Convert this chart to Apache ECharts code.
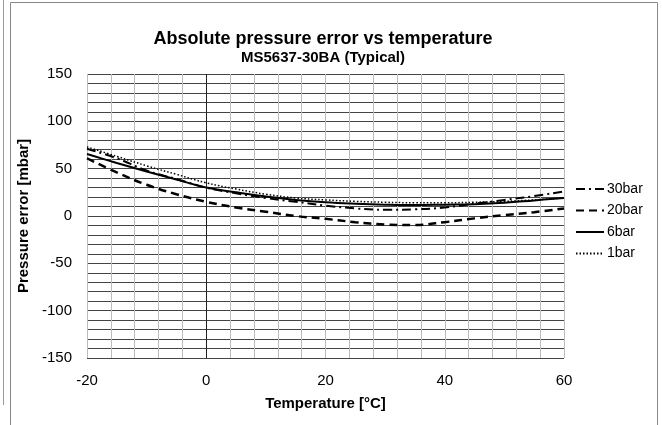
<!DOCTYPE html>
<html>
<head>
<meta charset="utf-8">
<script src="https://cdn.jsdelivr.net/npm/echarts@6/dist/echarts.min.js"></script>
<style>
html,body{margin:0;padding:0;background:#fff;}
#chart{width:662px;height:425px;}
</style>
</head>
<body>
<div id="chart"></div>
<script>
const temps = [-20,-15,-10,-5,0,5,10,15,20,25,30,35,40,45,50,55,60];
const bar30 = [71,61,48,39,30,24,19,15,11,8,6.5,7,9,13,17,21,26];
const bar20 = [61,46,33,23,15,9,4.5,0,-3,-6.5,-9,-9.5,-6.5,-2.5,1,4,8];
const bar6  = [65.5,56,47,38.5,30,25,20.5,17,14.5,13,12,11.5,12,12.5,14,16.5,19];
const bar1  = [73,63,53,44,35,28.5,23,19,17,15.5,14.5,14,14,14.5,15.5,17,19];
const xTicks = [-20,0,20,40,60];
const yTicks = [-150,-100,-50,0,50,100,150];

function pairs(vals){ return temps.map((t,i)=>[t, vals[i]]); }

const chart = echarts.init(document.getElementById('chart'), null, {renderer:'canvas'});
const font = 'Liberation Sans, Arial, sans-serif';
chart.setOption({
  animation:false,
  backgroundColor:'#fff',
  textStyle:{fontFamily:font},
  title:{
    text:'Absolute pressure error vs temperature',
    subtext:'MS5637-30BA (Typical)',
    left:318, top:25, textAlign:'center', itemGap:2,
    textStyle:{fontFamily:font,fontSize:18,fontWeight:'bold',color:'#000'},
    subtextStyle:{fontFamily:font,fontSize:15,fontWeight:'bold',color:'#000'}
  },
  graphic:[
    {type:'rect',shape:{x:10.5,y:2.5,width:647,height:430},style:{fill:'none',stroke:'#888',lineWidth:1},silent:true},
    {type:'line',shape:{x1:3.5,y1:0,x2:3.5,y2:405},style:{stroke:'#999',lineWidth:1},silent:true}
  ],
  grid:{left:87,right:98,top:74,bottom:67,show:false},
  legend:{
    orient:'vertical', left:570, top:177,
    itemWidth:28, itemHeight:14, itemGap:7.5,
    itemStyle:{opacity:0},
    textStyle:{fontFamily:font,fontSize:14,color:'#000',padding:[0,0,0,-2]},
    data:['30bar','20bar','6bar','1bar']
  },
  xAxis:{
    type:'value', min:-20, max:60, interval:4,
    name:'Temperature [°C]', nameLocation:'middle', nameGap:38,
    nameTextStyle:{fontFamily:font,fontSize:15,fontWeight:'bold',color:'#000'},
    axisLine:{show:false}, axisTick:{show:false},
    axisLabel:{fontFamily:font,fontSize:15,color:'#000',margin:15,
      formatter:v=> xTicks.includes(v) ? String(v) : ''},
    splitLine:{show:true,lineStyle:{color:'#bcbcbc',width:1}}
  },
  yAxis:{
    type:'value', min:-150, max:150, interval:10,
    name:'Pressure error [mbar]', nameLocation:'middle', nameGap:48,
    nameTextStyle:{fontFamily:font,fontSize:15,fontWeight:'bold',color:'#000'},
    axisLine:{show:false}, axisTick:{show:false},
    axisLabel:{fontFamily:font,fontSize:15,color:'#000',margin:15,
      formatter:v=> yTicks.includes(v) ? String(v) : ''},
    splitLine:{show:true,lineStyle:{color:'#444',width:1}}
  },
  series:[
    {name:'30bar',type:'line',data:pairs(bar30),smooth:0.4,symbol:'none',z:3,
     lineStyle:{color:'#000',width:2,type:[9,4,2,4]},itemStyle:{color:'#000'},
     markLine:{silent:true,symbol:'none',label:{show:false},
       lineStyle:{color:'#222',width:1,type:'solid'},data:[{xAxis:0}]}},
    {name:'20bar',type:'line',data:pairs(bar20),smooth:0.4,symbol:'none',z:3,
     lineStyle:{color:'#000',width:2.5,type:[8,5]},itemStyle:{color:'#000'}},
    {name:'6bar',type:'line',data:pairs(bar6),smooth:0.4,symbol:'none',z:4,
     lineStyle:{color:'#000',width:2,type:'solid'},itemStyle:{color:'#000'}},
    {name:'1bar',type:'line',data:pairs(bar1),smooth:0.4,symbol:'none',z:3,
     lineStyle:{color:'#000',width:1.5,type:[1.5,2]},itemStyle:{color:'#000'}}
  ]
});
</script>
</body>
</html>
